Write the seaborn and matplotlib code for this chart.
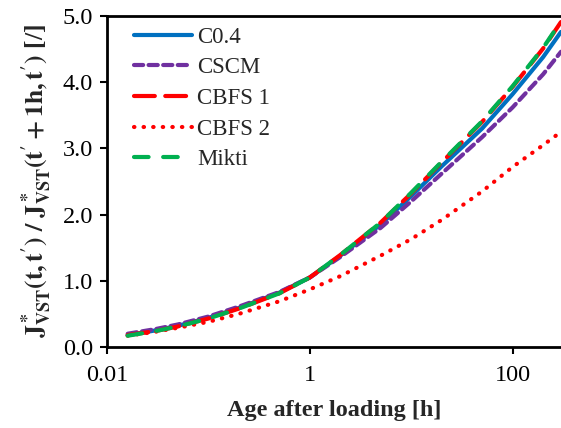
import numpy as np
import pandas as pd
import matplotlib
matplotlib.use('Agg')
import matplotlib.pyplot as plt
import seaborn as sns
from matplotlib.ticker import FixedLocator, NullLocator

# age after loading [h]
t = [0.016, 0.03, 0.05, 0.1, 0.2, 0.5, 1, 2, 5, 10, 20, 50, 100, 200, 300]

c04 = [0.18, 0.25, 0.32, 0.44, 0.59, 0.82, 1.05, 1.38, 1.85, 2.28, 2.73, 3.30, 3.82, 4.38, 4.76]
cscm = [0.20, 0.27, 0.34, 0.46, 0.61, 0.83, 1.05, 1.36, 1.80, 2.20, 2.62, 3.17, 3.62, 4.12, 4.46]
cbfs1 = [0.18, 0.24, 0.31, 0.43, 0.58, 0.81, 1.05, 1.39, 1.88, 2.32, 2.79, 3.40, 3.93, 4.51, 4.91]
cbfs2 = [0.17, 0.23, 0.29, 0.38, 0.50, 0.69, 0.87, 1.07, 1.38, 1.63, 1.92, 2.35, 2.72, 3.05, 3.25]
mikti = [0.17, 0.24, 0.31, 0.43, 0.58, 0.81, 1.05, 1.39, 1.88, 2.33, 2.80, 3.41, 3.94, 4.52, 4.92]

names = ['C0.4', 'CSCM', 'CBFS 1', 'CBFS 2', 'Mikti']
colors = ['#0070C0', '#7030A0', '#FF0000', '#FF0000', '#00B050']
styles = ['-', (0, (2.2, 1.3)), (0, (5, 2.5)), (0, (0.1, 2.2)), (0, (3.5, 3.5))]

sns.set_style('white')
plt.rcParams['font.family'] = ['Liberation Serif', 'DejaVu Serif']
plt.rcParams['mathtext.fontset'] = 'stix'

fig = plt.figure(figsize=(5.61, 4.28), dpi=100)
ax = fig.add_axes([0.1907, 0.1893, 0.8093, 0.7733])

for name, ys, col, ls in zip(names, [c04, cscm, cbfs1, cbfs2, mikti], colors, styles):
    df = pd.DataFrame({'t': t, 'y': ys})
    sns.lineplot(data=df, x='t', y='y', ax=ax, color=col, lw=3,
                 label=name, dash_capstyle='round', solid_capstyle='round')
    ax.lines[-1].set_linestyle(ls)

ax.set_xscale('log')
ax.set_xlim(0.01, 300)
ax.set_ylim(0, 5)
ax.xaxis.set_major_locator(FixedLocator([0.01, 1, 100]))
ax.xaxis.set_minor_locator(NullLocator())
ax.set_xticklabels(['0.01', '1', '100'])
ax.set_yticks([0, 1, 2, 3, 4, 5])
ax.set_yticklabels(['0.0', '1.0', '2.0', '3.0', '4.0', '5.0'])
ax.tick_params(axis='both', direction='out', length=5, width=1.5, labelsize=17.5,
               colors='black', bottom=True, left=True)
ax.tick_params(axis='x', pad=8)
ax.tick_params(axis='y', pad=5)

for side in ['left', 'bottom', 'top']:
    ax.spines[side].set_color('black')
    ax.spines[side].set_linewidth(2)
ax.spines['right'].set_visible(False)

ax.set_xlabel('Age after loading [h]', fontsize=17.5, fontweight='bold', labelpad=10)
ax.set_ylabel(r"$\mathbf{J^*_{VST}(t,t^{\prime})\ /\ J^*_{VST}(t^{\prime}+1h,t^{\prime})}$ [/]",
              fontsize=18.5, fontweight='bold', labelpad=6)

leg = ax.legend(loc='upper left', bbox_to_anchor=(0.015, 1.03), frameon=False,
                fontsize=16.5, handlelength=2.5, handletextpad=0.25, labelspacing=0.42)

fig.savefig('out.png', dpi=100)
